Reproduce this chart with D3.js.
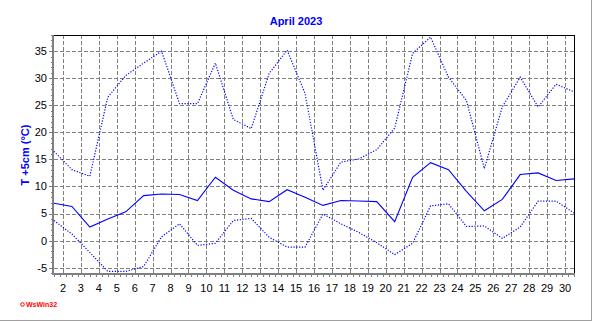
<!DOCTYPE html>
<html lang="en">
  <head>
    <meta charset="UTF-8" />
    <title>April 2023</title>
    <style>
      body { margin: 0; background: #ffffff; }
      svg { display: block; font-family: "Liberation Sans", Arial, sans-serif; }
    </style>
    <script src="https://d3js.org/d3.v7.min.js"></script>
  </head>
  <body>
    <div id="svg-container"></div>
    <script>
      // daily values, April 2023, T +5cm
      const days = d3.range(1, 31);
      const tMax = [16.5, 13.1, 11.9, 26.5, 30.5, 32.8, 35.0, 25.3, 25.3, 32.8,
                    22.4, 20.7, 30.9, 35.2, 27.2, 9.3, 14.5, 15.1, 16.8, 20.8,
                    34.6, 37.6, 30.2, 25.9, 13.3, 24.7, 30.2, 24.7, 28.9, 27.5];
      const tMean = [6.9, 6.3, 2.5, 4.0, 5.3, 8.3, 8.6, 8.5, 7.4, 11.7,
                     9.3, 7.7, 7.2, 9.4, 8.0, 6.5, 7.4, 7.3, 7.2, 3.5,
                     11.7, 14.4, 13.1, 9.1, 5.5, 7.6, 12.2, 12.5, 11.1, 11.4];
      const tMin = [3.7, 1.2, -2.2, -5.7, -5.7, -4.8, 0.7, 3.1, -0.9, -0.5,
                    3.7, 4.1, 0.6, -1.2, -1.2, 4.9, 3.1, 1.5, -0.4, -2.6,
                    -0.5, 6.4, 6.8, 2.6, 2.7, 0.4, 2.5, 7.3, 7.3, 5.1];
      const xTickLabels = d3.range(2, 31);
      const yTickLabels = [-5, 0, 5, 10, 15, 20, 25, 30, 35];

      const width = 592;
      const height = 321;
      const plotLeft = 54, plotRight = 574, plotTop = 35, plotBottom = 273;

      const svg = d3
        .select("#svg-container")
        .append("svg")
        .attr("width", width)
        .attr("height", height);

      // data points sit at noon, day labels at midnight
      const x = d3.scaleLinear().domain([1, 30]).range([plotLeft, plotRight]);
      const y = d3.scaleLinear().domain([-6, 38]).range([plotBottom, plotTop]);

      // frame of the window
      svg.append("line")
        .attr("x1", 0).attr("x2", width).attr("y1", height - 0.5).attr("y2", height - 0.5)
        .attr("stroke", "#a0a0a0");
      svg.append("line")
        .attr("x1", width - 0.5).attr("x2", width - 0.5).attr("y1", 0).attr("y2", height)
        .attr("stroke", "#a0a0a0");

      // grid
      const grid = svg.append("g")
        .attr("stroke", "#808080")
        .attr("stroke-dasharray", "4,2")
        .attr("shape-rendering", "crispEdges");
      grid.selectAll(".vgrid")
        .data(xTickLabels)
        .join("line")
        .attr("x1", d => Math.round(x(d - 0.5)) + 0.5)
        .attr("x2", d => Math.round(x(d - 0.5)) + 0.5)
        .attr("y1", plotTop)
        .attr("y2", plotBottom);
      grid.selectAll(".hgrid")
        .data(yTickLabels)
        .join("line")
        .attr("x1", plotLeft)
        .attr("x2", plotRight)
        .attr("y1", d => Math.round(y(d)) + 0.5)
        .attr("y2", d => Math.round(y(d)) + 0.5);

      // top and right border
      svg.append("path")
        .attr("d", `M${plotLeft},${plotTop + 0.5} H${plotRight + 0.5} V${plotBottom}`)
        .attr("fill", "none")
        .attr("stroke", "#000")
        .attr("shape-rendering", "crispEdges");

      // left axis with 1° minor ticks
      const yAxis = d3.axisLeft(y)
        .tickValues(d3.range(-6, 39))
        .tickSize(2)
        .tickFormat("");
      const gy = svg.append("g")
        .attr("transform", `translate(${plotLeft - 1},0)`)
        .call(yAxis);
      gy.selectAll("line").attr("stroke", "#808080").attr("shape-rendering", "crispEdges");
      gy.select(".domain").remove();
      gy.selectAll(".major")
        .data(yTickLabels)
        .join("line")
        .attr("x1", -4).attr("x2", 0)
        .attr("y1", d => Math.round(y(d)) + 0.5)
        .attr("y2", d => Math.round(y(d)) + 0.5)
        .attr("stroke", "#808080")
        .attr("shape-rendering", "crispEdges");
      svg.append("g")
        .selectAll("text")
        .data(yTickLabels)
        .join("text")
        .attr("x", 47)
        .attr("y", d => y(d))
        .attr("dy", "0.36em")
        .attr("text-anchor", "end")
        .attr("font-size", "11px")
        .attr("fill", "#000")
        .text(d => d);

      // bottom axis, ticks every 8 hours
      const xAxis = d3.axisBottom(x)
        .tickValues(d3.range(1, 30.01, 1 / 3))
        .tickSize(3)
        .tickFormat("");
      const gx = svg.append("g")
        .attr("transform", `translate(0,${plotBottom + 1})`)
        .call(xAxis);
      gx.selectAll("line").attr("stroke", "#808080").attr("shape-rendering", "crispEdges");
      gx.select(".domain").remove();
      svg.append("g")
        .selectAll("text")
        .data(xTickLabels)
        .join("text")
        .attr("x", d => x(d - 0.5))
        .attr("y", 292)
        .attr("text-anchor", "middle")
        .attr("font-size", "11px")
        .attr("fill", "#000")
        .text(d => d);

      // thick grey axis lines
      svg.append("line")
        .attr("x1", plotLeft - 1).attr("x2", plotLeft - 1).attr("y1", plotTop).attr("y2", plotBottom + 2)
        .attr("stroke", "#808080").attr("stroke-width", 2);
      svg.append("line")
        .attr("x1", plotLeft - 2).attr("x2", plotRight + 1).attr("y1", plotBottom + 1).attr("y2", plotBottom + 1)
        .attr("stroke", "#808080").attr("stroke-width", 2);

      // temperature lines
      const line = d3.line()
        .x((d, i) => x(days[i]))
        .y(d => y(d));
      svg.append("path")
        .datum(tMax)
        .attr("d", line)
        .attr("fill", "none")
        .attr("stroke", "#0000ff")
        .attr("stroke-width", 1.2)
        .attr("stroke-dasharray", "1.2,1.6");
      svg.append("path")
        .datum(tMin)
        .attr("d", line)
        .attr("fill", "none")
        .attr("stroke", "#0000ff")
        .attr("stroke-width", 1.2)
        .attr("stroke-dasharray", "1.2,1.6");
      svg.append("path")
        .datum(tMean)
        .attr("d", line)
        .attr("fill", "none")
        .attr("stroke", "#0000ff")
        .attr("stroke-width", 1.1);

      // title and axis label
      svg.append("text")
        .attr("x", 296)
        .attr("y", 25)
        .attr("text-anchor", "middle")
        .attr("font-size", "11px")
        .attr("font-weight", "bold")
        .attr("fill", "#0000ff")
        .text("April 2023");

      svg.append("text")
        .attr("transform", "translate(29,155) rotate(-90)")
        .attr("text-anchor", "middle")
        .attr("font-size", "11px")
        .attr("font-weight", "bold")
        .attr("fill", "#0000ff")
        .text("T +5cm (°C)");

      // program stamp
      svg.append("circle")
        .attr("cx", 22.5).attr("cy", 304.5).attr("r", 1.8)
        .attr("fill", "none").attr("stroke", "#ff0000").attr("stroke-width", 1);
      svg.append("text")
        .attr("x", 26)
        .attr("y", 307)
        .attr("font-size", "7px")
        .attr("font-weight", "bold")
        .attr("fill", "#ff0000")
        .text("WsWin32");
    </script>
  </body>
</html>
